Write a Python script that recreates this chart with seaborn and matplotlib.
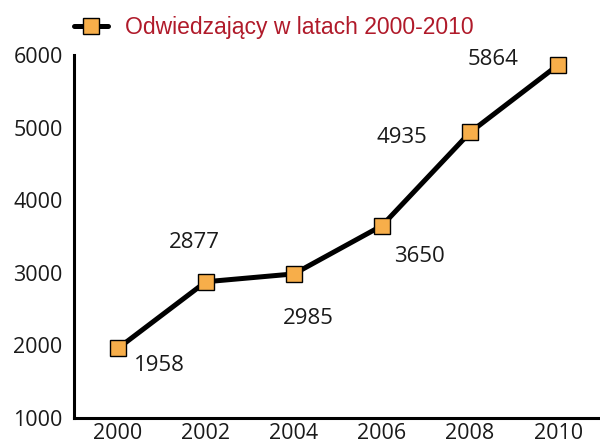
import numpy as np
import pandas as pd
import matplotlib
matplotlib.use("Agg")
import matplotlib.pyplot as plt
import seaborn as sns

years = [2000, 2002, 2004, 2006, 2008, 2010]
visitors = [1958, 2877, 2985, 3650, 4935, 5864]
series_name = "Odwiedzający w latach 2000-2010"
label_offsets = [(30, -12), (-8, 28), (10, -32), (27, -22), (-49, -4), (-47, 4)]

sns.set_style("white")
plt.rcParams['font.family'] = ['Open Sans', 'DejaVu Sans']

df = pd.DataFrame({"rok": years, "liczba": visitors})

fig = plt.figure(figsize=(6, 4.44), dpi=100)
ax = fig.add_axes([0.123, 0.0586, 0.877, 0.8174])

sns.lineplot(data=df, x="rok", y="liczba", ax=ax, color="black", linewidth=3.6,
             marker="s", markersize=11.5, markerfacecolor="#F7AE4A",
             markeredgecolor="black", markeredgewidth=1.0, label=series_name)

for x, y, off in zip(years, visitors, label_offsets):
    ax.annotate(str(y), (x, y), xytext=off, textcoords="offset points",
                ha="center", va="center", fontsize=16, color="#1a1a1a")

ax.set_xlim(1999, 2010.95)
ax.set_ylim(1000, 6000)
ax.set_xticks(years)
ax.set_yticks([1000, 2000, 3000, 4000, 5000, 6000])
ax.set_xlabel("")
ax.set_ylabel("")
ax.tick_params(axis="both", direction="in", length=7, width=2, labelsize=15.5,
               colors="black", labelcolor="#1a1a1a")
ax.tick_params(axis="x", pad=3.5)
ax.tick_params(axis="y", pad=8)
for s in ["top", "right"]:
    ax.spines[s].set_visible(False)
for s in ["left", "bottom"]:
    ax.spines[s].set_linewidth(2.2)
    ax.spines[s].set_color("black")

leg = ax.legend(loc="lower left", bbox_to_anchor=(-0.025, 1.005), frameon=False,
                handlelength=1.45, handletextpad=0.75, borderaxespad=0.2,
                prop={"family": "Liberation Sans", "size": 16.5})
for t in leg.get_texts():
    t.set_color("#B01A2A")

fig.savefig("out.png", dpi=100)
